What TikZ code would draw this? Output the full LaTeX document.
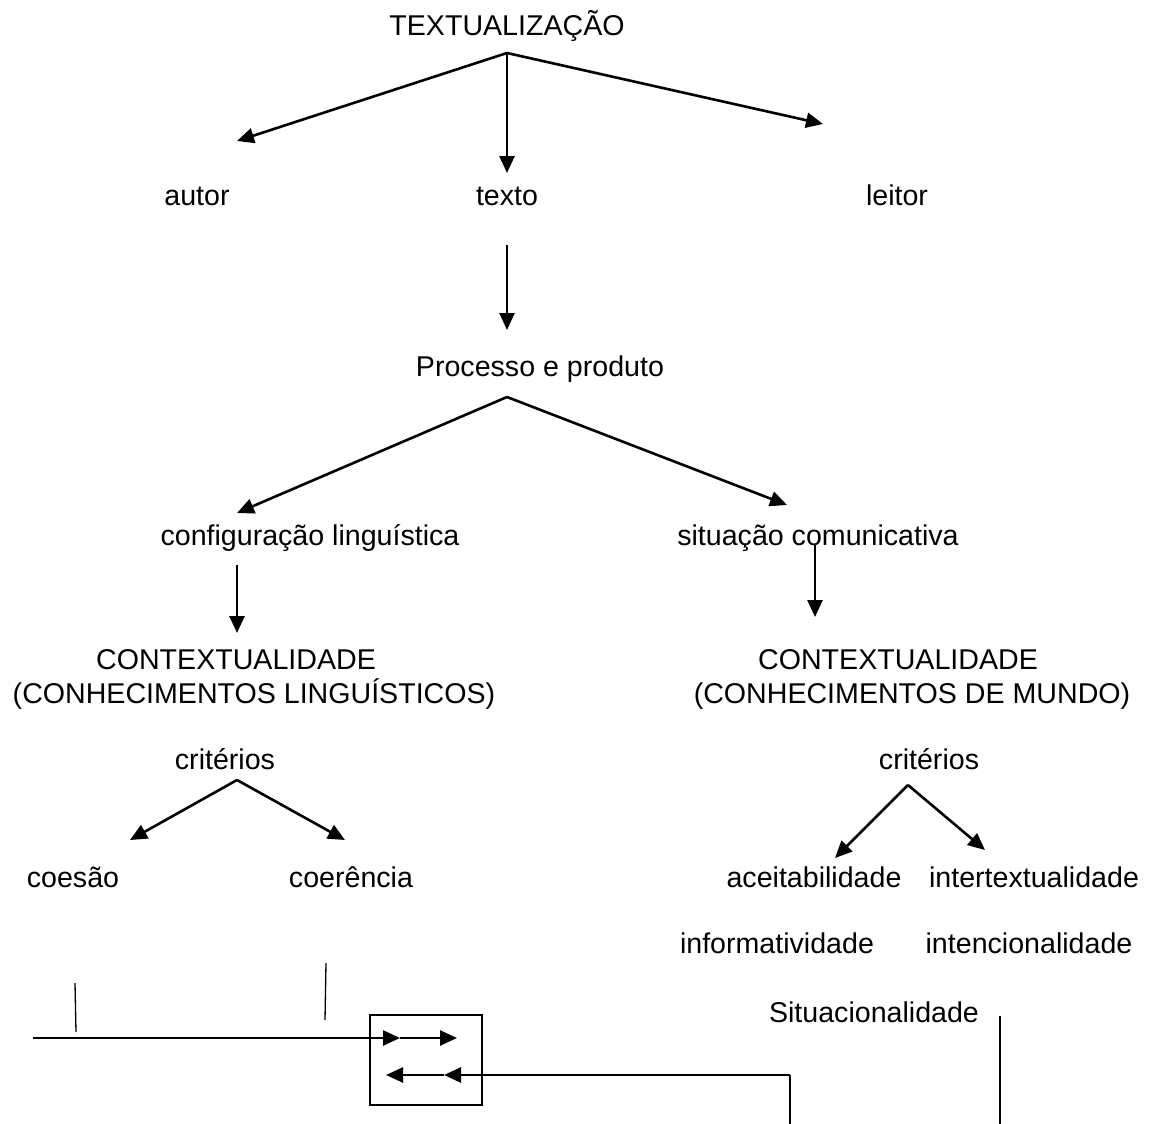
\documentclass[tikz,border=0pt]{standalone}
\usepackage{fontspec}
\setmainfont{Liberation Sans}
\usetikzlibrary{arrows.meta}
\begin{document}
\begin{tikzpicture}[x=1pt,y=-1pt,
  lbl/.style={anchor=base,inner sep=0pt,font=\fontsize{28.6}{34}\selectfont},
  arr/.style={line width=2.6pt,-{Triangle[length=17pt,width=15pt]}},
  thin/.style={line width=1.3pt}]
\useasboundingbox[fill=white] (0,0) rectangle (1157,1124);

% labels
\node[lbl] (textualizacao) at (507,36) {TEXTUALIZAÇÃO};
\node[lbl] (autor) at (197,205) {autor};
\node[lbl] (texto) at (507,205) {texto};
\node[lbl] (leitor) at (897,205) {leitor};
\node[lbl] (processo) at (540,376) {Processo e produto};
\node[lbl] (config) at (310,545) {configuração linguística};
\node[lbl] (situacao) at (818,545) {situação comunicativa};
\node[lbl] (ctxL) at (236,669) {CONTEXTUALIDADE};
\node[lbl] (conhL) at (254,703) {(CONHECIMENTOS LINGUÍSTICOS)};
\node[lbl] (ctxR) at (898,669) {CONTEXTUALIDADE};
\node[lbl] (conhR) at (912,703) {(CONHECIMENTOS DE MUNDO)};
\node[lbl] (critL) at (225,769) {critérios};
\node[lbl] (critR) at (929,769) {critérios};
\node[lbl] (coesao) at (73,887) {coesão};
\node[lbl] (coerencia) at (351,887) {coerência};
\node[lbl] (aceit) at (814,887) {aceitabilidade};
\node[lbl] (intert) at (1034,887) {intertextualidade};
\node[lbl] (inform) at (777,953) {informatividade};
\node[lbl] (intenc) at (1029,953) {intencionalidade};
\node[lbl] (situac) at (874,1022) {Situacionalidade};

% connector end points
\coordinate (t0) at (507,53);
\coordinate (tA) at (237,141);
\coordinate (tT) at (507,173);
\coordinate (tL) at (823,124);
\coordinate (x0) at (507,245);
\coordinate (x1) at (507,330);
\coordinate (p0) at (507,397);
\coordinate (pL) at (237,513);
\coordinate (pR) at (787,505);
\coordinate (c0) at (237,565);
\coordinate (c1) at (237,633);
\coordinate (s0) at (815,544);
\coordinate (s1) at (815,617);
\coordinate (kL0) at (237,780);
\coordinate (kL1) at (130,840);
\coordinate (kL2) at (345,840);
\coordinate (kR0) at (908,785);
\coordinate (kR1) at (835,858);
\coordinate (kR2) at (985,850);

\draw[arr] (t0) -- (tA);
\draw[arr] (t0) -- (tT);
\draw[arr] (t0) -- (tL);
\draw[arr] (x0) -- (x1);
\draw[arr] (p0) -- (pL);
\draw[arr] (p0) -- (pR);
\draw[arr] (c0) -- (c1);
\draw[arr] (s0) -- (s1);
\draw[arr] (kL0) -- (kL1);
\draw[arr] (kL0) -- (kL2);
\draw[arr] (kR0) -- (kR1);
\draw[arr] (kR0) -- (kR2);

% lower section
\coordinate (m1a) at (75,983);
\coordinate (m1b) at (76,1032);
\coordinate (m2a) at (326,963);
\coordinate (m2b) at (325,1020);
\draw[thin] (m1a) -- (m1b);
\draw[thin] (m2a) -- (m2b);

\node[draw,line width=1.8pt,minimum width=112pt,minimum height=90pt,inner sep=0pt] (box) at (426,1060) {};

\coordinate (h0) at (33,1038);
\coordinate (h1) at (400,1038);
\coordinate (h2) at (457,1038);
\draw[arr] (h0) -- (h1);
\draw[arr] (h1) -- (h2);

\coordinate (r0) at (790,1124);
\coordinate (r1) at (790,1075);
\coordinate (r2) at (444,1075);
\coordinate (r3) at (386,1075);
\draw[thin] (r0) -- (r1);
\draw[arr] (r1) -- (r2);
\draw[arr] (r2) -- (r3);

\coordinate (v0) at (1000,1016);
\coordinate (v1) at (1000,1124);
\draw[thin] (v0) -- (v1);
\end{tikzpicture}
\end{document}
